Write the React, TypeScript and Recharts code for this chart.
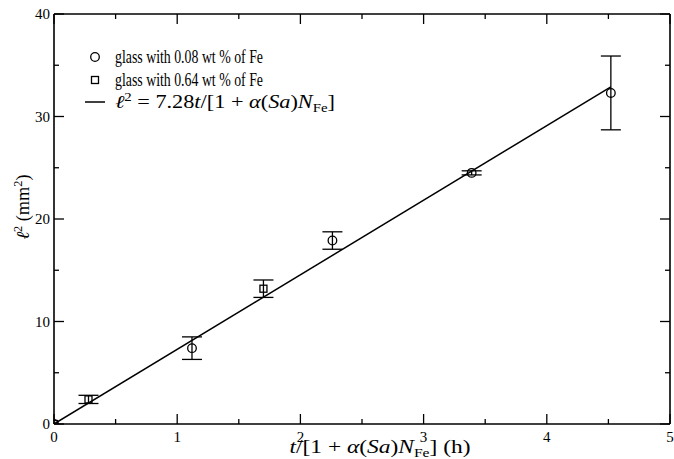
import React from "react";
import { ScatterChart, Scatter, XAxis, YAxis, ErrorBar, Legend } from "recharts";

// --- data ---
const circleT = [0, 1.12, 2.26, 3.39, 4.52];
const circleL2 = [0, 7.4, 17.9, 24.5, 32.3];
const circleErr = [0, 1.1, 0.85, 0.2, 3.6];

const squareT = [0, 0.28, 1.7];
const squareL2 = [0, 2.4, 13.2];
const squareErr = [0, 0.4, 0.85];

const fitT = [0, 4.52];
const fitL2 = [0, 32.9];

const xTicks = [0, 0.5, 1, 1.5, 2, 2.5, 3, 3.5, 4, 4.5, 5];
const yTicks = [0, 5, 10, 15, 20, 25, 30, 35, 40];

const legendLabels = ["glass with 0.08 wt % of Fe", "glass with 0.64 wt % of Fe"];

const circleData = circleT.map((x, i) => ({ x, y: circleL2[i], err: circleErr[i] }));
const squareData = squareT.map((x, i) => ({ x, y: squareL2[i], err: squareErr[i] }));
const fitData = fitT.map((x, i) => ({ x, y: fitL2[i] }));

const TICK_FONT = "'Liberation Serif', 'Times New Roman', serif";
const MATH_FONT = "'Liberation Serif', 'DejaVu Serif', serif";

const isMajorX = (v: number) => Math.abs(v - Math.round(v)) < 1e-9;
const isMajorY = (v: number) => Math.abs(v / 10 - Math.round(v / 10)) < 1e-9;

const BottomTick = (props: any) => {
  const { x, y, payload } = props;
  const major = isMajorX(payload.value);
  return (
    <g>
      <line x1={x} x2={x} y1={y} y2={y - (major ? 10 : 5)} stroke="#000" strokeWidth={1.3} />
      {major && (
        <text x={x} y={y + 18} textAnchor="middle" fontFamily={TICK_FONT} fontSize={15} fill="#000">
          {payload.value}
        </text>
      )}
    </g>
  );
};

const TopTick = (props: any) => {
  const { x, y, payload } = props;
  const major = isMajorX(payload.value);
  return <line x1={x} x2={x} y1={y} y2={y + (major ? 10 : 5)} stroke="#000" strokeWidth={1.3} />;
};

const LeftTick = (props: any) => {
  const { x, y, payload } = props;
  const major = isMajorY(payload.value);
  return (
    <g>
      <line x1={x} x2={x + (major ? 10 : 5)} y1={y} y2={y} stroke="#000" strokeWidth={1.3} />
      {major && (
        <text x={x - 4} y={y + 5} textAnchor="end" fontFamily={TICK_FONT} fontSize={15} fill="#000">
          {payload.value}
        </text>
      )}
    </g>
  );
};

const RightTick = (props: any) => {
  const { x, y, payload } = props;
  const major = isMajorY(payload.value);
  return <line x1={x} x2={x - (major ? 10 : 5)} y1={y} y2={y} stroke="#000" strokeWidth={1.3} />;
};

const CircleShape = (props: any) => (
  <circle cx={props.cx} cy={props.cy} r={4.3} fill="none" stroke="#000" strokeWidth={1.3} />
);
const SquareShape = (props: any) => (
  <rect x={props.cx - 3.5} y={props.cy - 3.5} width={7} height={7} fill="none" stroke="#000" strokeWidth={1.3} />
);
const NoShape = () => <g />;

const XTitle = (props: any) => {
  const vb = props.viewBox || {};
  const cx = vb.x + vb.width / 2 + 18;
  const y = vb.y + 29;
  return (
    <text x={cx} y={y} textAnchor="middle" fontFamily={MATH_FONT} fontSize={18} fill="#000" textLength={181} lengthAdjust="spacingAndGlyphs">
      <tspan fontStyle="italic">t</tspan>
      <tspan>/[1 + </tspan>
      <tspan fontStyle="italic">α</tspan>
      <tspan>(</tspan>
      <tspan fontStyle="italic">Sa</tspan>
      <tspan>)</tspan>
      <tspan fontStyle="italic">N</tspan>
      <tspan fontSize={12} dy={4}>Fe</tspan>
      <tspan dy={-4}>] (h)</tspan>
    </text>
  );
};

const YTitle = () => {
  const cx = 29;
  const cy = 207;
  return (
    <text
      x={cx}
      y={cy}
      transform={`rotate(-90 ${cx} ${cy})`}
      textAnchor="middle"
      fontFamily={MATH_FONT}
      fontSize={18}
      fill="#000"
      textLength={65}
      lengthAdjust="spacingAndGlyphs"
    >
      <tspan fontStyle="italic">ℓ</tspan>
      <tspan fontSize={12} dy={-7}>2</tspan>
      <tspan dy={7}> (mm</tspan>
      <tspan fontSize={12} dy={-7}>2</tspan>
      <tspan dy={7}>)</tspan>
    </text>
  );
};

const LegendContent = () => {
  const rows = [57, 80, 102];
  const mx = 95;
  const tx = 115;
  return (
    <svg width={400} height={130} style={{ position: "absolute", left: 0, top: 0, overflow: "visible" }}>
      <circle cx={mx} cy={rows[0]} r={4.3} fill="none" stroke="#000" strokeWidth={1.3} />
      <text x={tx} y={rows[0] + 6} fontFamily={MATH_FONT} fontSize={18} fill="#000" textLength={148} lengthAdjust="spacingAndGlyphs">
        {legendLabels[0]}
      </text>
      <rect x={mx - 3.5} y={rows[1] - 3.5} width={7} height={7} fill="none" stroke="#000" strokeWidth={1.3} />
      <text x={tx} y={rows[1] + 6} fontFamily={MATH_FONT} fontSize={18} fill="#000" textLength={148} lengthAdjust="spacingAndGlyphs">
        {legendLabels[1]}
      </text>
      <line x1={mx - 10} x2={mx + 10} y1={rows[2]} y2={rows[2]} stroke="#000" strokeWidth={1.5} />
      <text x={tx} y={rows[2] + 6} fontFamily={MATH_FONT} fontSize={18} fill="#000" textLength={220} lengthAdjust="spacingAndGlyphs">
        <tspan fontStyle="italic">ℓ</tspan>
        <tspan fontSize={12} dy={-7}>2</tspan>
        <tspan dy={7}> = 7.28</tspan>
        <tspan fontStyle="italic">t</tspan>
        <tspan>/[1 + </tspan>
        <tspan fontStyle="italic">α</tspan>
        <tspan>(</tspan>
        <tspan fontStyle="italic">Sa</tspan>
        <tspan>)</tspan>
        <tspan fontStyle="italic">N</tspan>
        <tspan fontSize={12} dy={4}>Fe</tspan>
        <tspan dy={-4}>]</tspan>
      </text>
    </svg>
  );
};

export default function App() {
  return (
    <div style={{ width: 674, height: 459, position: "absolute", left: 0, top: 0, background: "#fff" }}>
      <ScatterChart
        width={674}
        height={459}
        margin={{ top: 13, right: 3, bottom: 0, left: 0 }}
        style={{ overflow: "visible" }}
      >
        <XAxis
          xAxisId="b"
          type="number"
          dataKey="x"
          orientation="bottom"
          domain={[0, 5]}
          allowDataOverflow
          ticks={xTicks}
          interval={0}
          tickSize={0}
          tickMargin={0}
          height={35}
          tick={<BottomTick />}
          axisLine={{ stroke: "#000", strokeWidth: 1.6 }}
          label={<XTitle />}
        />
        <XAxis
          xAxisId="t"
          type="number"
          dataKey="x"
          orientation="top"
          domain={[0, 5]}
          allowDataOverflow
          ticks={xTicks}
          interval={0}
          tickSize={0}
          tickMargin={0}
          height={1}
          tick={<TopTick />}
          axisLine={{ stroke: "#000", strokeWidth: 1.6 }}
        />
        <YAxis
          yAxisId="l"
          type="number"
          dataKey="y"
          orientation="left"
          domain={[0, 40]}
          allowDataOverflow
          ticks={yTicks}
          interval={0}
          tickSize={0}
          tickMargin={0}
          width={54}
          tick={<LeftTick />}
          axisLine={{ stroke: "#000", strokeWidth: 1.6 }}
          label={<YTitle />}
        />
        <YAxis
          yAxisId="r"
          type="number"
          dataKey="y"
          orientation="right"
          domain={[0, 40]}
          allowDataOverflow
          ticks={yTicks}
          interval={0}
          tickSize={0}
          tickMargin={0}
          width={1}
          tick={<RightTick />}
          axisLine={{ stroke: "#000", strokeWidth: 1.6 }}
        />
        <Scatter
          xAxisId="b"
          yAxisId="l"
          data={fitData}
          line={{ stroke: "#000", strokeWidth: 1.5 }}
          shape={<NoShape />}
          isAnimationActive={false}
          legendType="none"
        />
        <Scatter xAxisId="b" yAxisId="l" data={squareData} shape={<SquareShape />} isAnimationActive={false}>
          <ErrorBar dataKey="err" direction="y" width={10} stroke="#000" strokeWidth={1.3} />
        </Scatter>
        <Scatter xAxisId="b" yAxisId="l" data={circleData} shape={<CircleShape />} isAnimationActive={false}>
          <ErrorBar dataKey="err" direction="y" width={10} stroke="#000" strokeWidth={1.3} />
        </Scatter>
        <Scatter xAxisId="t" yAxisId="r" data={fitData} shape={<NoShape />} isAnimationActive={false} legendType="none" />
        <Legend
          layout="vertical"
          align="center"
          verticalAlign="middle"
          content={<LegendContent />}
          wrapperStyle={{ position: "absolute", left: 0, top: 0, width: 400, height: 130, pointerEvents: "none" }}
        />
      </ScatterChart>
    </div>
  );
}
